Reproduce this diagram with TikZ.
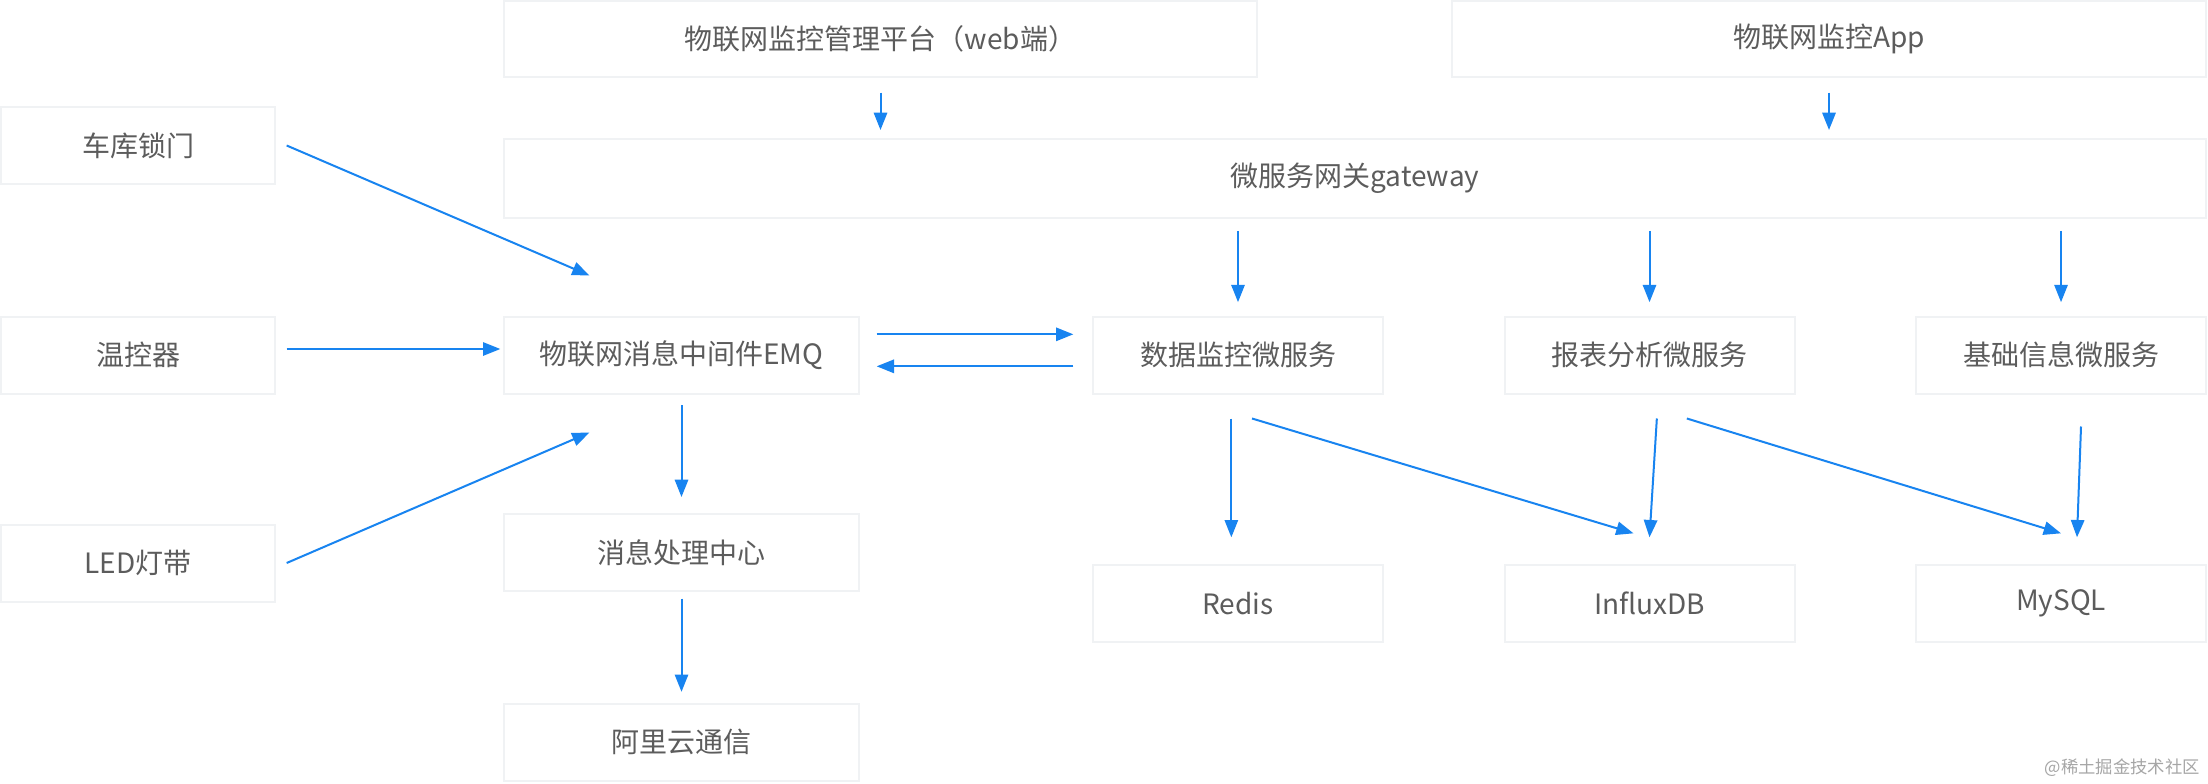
\documentclass[tikz,border=0pt]{standalone}
\usepackage{fontspec}
\setmainfont{Noto Sans CJK SC}
\usetikzlibrary{arrows.meta,calc}
\definecolor{arrblue}{RGB}{24,132,240}
\definecolor{boxline}{RGB}{240,242,244}
\definecolor{txt}{RGB}{92,92,92}
\tikzset{
  box/.style={draw=boxline, line width=1.5pt, fill=white, rectangle, text=txt,
    font=\fontsize{21}{25}\selectfont, inner sep=0pt},
  arr/.style={draw=arrblue, line width=1.5pt, -{Triangle[length=13pt,width=10pt]}},
}
\begin{document}
\begin{tikzpicture}[x=0.75pt,y=-0.75pt]
\useasboundingbox[fill=white] (0,0) rectangle (2208,784);
% top row
\node[box, minimum width=753*0.75pt, minimum height=76*0.75pt] (web) at (880.5,39) {物联网监控管理平台（web端）};
\node[box, minimum width=754*0.75pt, minimum height=76*0.75pt] (app) at (1829,39) {物联网监控App};
\node[box, minimum width=1702*0.75pt, minimum height=79*0.75pt] (gw) at (1355,178.5) {微服务网关gateway};
% left devices
\node[box, minimum width=274*0.75pt, minimum height=77*0.75pt] (lock) at (138,145.5) {车库锁门};
\node[box, minimum width=274*0.75pt, minimum height=77*0.75pt] (temp) at (138,355) {温控器};
\node[box, minimum width=274*0.75pt, minimum height=77*0.75pt] (led) at (138,563) {LED灯带};
% middle column
\node[box, minimum width=355*0.75pt, minimum height=77*0.75pt] (emq) at (681.5,355) {物联网消息中间件EMQ};
\node[box, minimum width=355*0.75pt, minimum height=77*0.75pt] (proc) at (681.5,552.5) {消息处理中心};
\node[box, minimum width=355*0.75pt, minimum height=77*0.75pt] (ali) at (681.5,742) {阿里云通信};
% services
\node[box, minimum width=290*0.75pt, minimum height=77*0.75pt] (data) at (1238,355) {数据监控微服务};
\node[box, minimum width=290*0.75pt, minimum height=77*0.75pt] (report) at (1649.5,355) {报表分析微服务};
\node[box, minimum width=290*0.75pt, minimum height=77*0.75pt] (base) at (2061,355) {基础信息微服务};
% stores
\node[box, minimum width=290*0.75pt, minimum height=77*0.75pt] (redis) at (1238,603.5) {Redis};
\node[box, minimum width=290*0.75pt, minimum height=77*0.75pt] (influx) at (1649.5,603.5) {InfluxDB};
\node[box, minimum width=290*0.75pt, minimum height=77*0.75pt] (mysql) at (2061,603.5) {MySQL};
% watermark
\node[anchor=east, text=black!35, font=\fontsize{13}{15}\selectfont, inner sep=0pt] (wm) at (2200,768) {@稀土掘金技术社区};
% arrows top
\draw[arr] ([yshift=-11pt]web.south) -- ([yshift=6pt]web.south |- gw.north);
\draw[arr] ([yshift=-11pt]app.south) -- ([yshift=6pt]app.south |- gw.north);
% gateway to services
\draw[arr] ([yshift=-9pt]data.north |- gw.south) -- ([yshift=10pt]data.north);
\draw[arr] ([yshift=-9pt]report.north |- gw.south) -- ([yshift=10pt]report.north);
\draw[arr] ([yshift=-9pt]base.north |- gw.south) -- ([yshift=10pt]base.north);
% devices to EMQ
\draw[arr] ([xshift=8pt]lock.east) -- ([xshift=-69pt,yshift=30pt]emq.north);
\draw[arr] ([xshift=8pt,yshift=4.5pt]temp.east) -- ([xshift=-2pt,yshift=4.5pt]emq.west);
\draw[arr] ([xshift=8pt]led.east) -- ([xshift=-69pt,yshift=-28.5pt]emq.south);
% EMQ <-> data
\draw[arr] ([xshift=12.5pt,yshift=15.5pt]emq.east) -- ([xshift=-14pt,yshift=15.5pt]data.west);
\draw[arr] ([xshift=-14pt,yshift=-8.5pt]data.west) -- ([xshift=12.5pt,yshift=-8.5pt]emq.east);
% EMQ down chain
\draw[arr] ([yshift=-8pt]emq.south) -- ([yshift=12pt]proc.north);
\draw[arr] ([yshift=-5pt]proc.south) -- ([yshift=8pt]ali.north);
% services to stores
\draw[arr] ([xshift=-5pt,yshift=-18pt]data.south) -- ([xshift=-5pt,yshift=20pt]redis.north);
\draw[arr] ([xshift=10.5pt,yshift=-18pt]data.south) -- ([xshift=-12pt,yshift=23pt]influx.north);
\draw[arr] ([xshift=5.5pt,yshift=-18pt]report.south) -- ([xshift=0pt,yshift=20pt]influx.north);
\draw[arr] ([xshift=28pt,yshift=-18pt]report.south) -- ([xshift=0pt,yshift=23pt]mysql.north);
\draw[arr] ([xshift=15pt,yshift=-24pt]base.south) -- ([xshift=12pt,yshift=20pt]mysql.north);
\end{tikzpicture}
\end{document}
